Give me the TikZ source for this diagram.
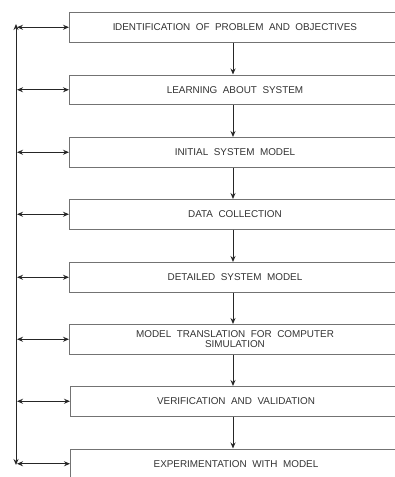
\documentclass[tikz,border=0pt]{standalone}
\usepackage{fontspec}
\setmainfont{Liberation Sans}
\usetikzlibrary{arrows.meta}
\begin{document}
\begin{tikzpicture}[x=1pt,y=-1pt,
  stagebox/.style={draw=black!55, line width=1pt, minimum width=331pt, minimum height=29.5pt,
    inner sep=0pt, anchor=north west, font=\fontsize{9.9}{12}\selectfont, text=black!80, align=center},
  flow/.style={draw=black!85, line width=1pt, -{Stealth[length=6pt,width=5pt]}},
  both/.style={draw=black!85, line width=1pt, {Stealth[length=6pt,width=5pt]}-{Stealth[length=6pt,width=5pt]}}
]
\useasboundingbox (0,0) rectangle (395,477);
\begin{scope}
\clip (0,0) rectangle (395,477);
\node[stagebox] (b1) at (69,12)  {I\kern-0.5ptDENTIFICATION \ OF \ PROBLEM \ AND \ OBJECTIVES};
\node[stagebox] (b2) at (69,74.5)  {LEARNING \ ABOUT \ SYSTEM};
\node[stagebox] (b3) at (69,137) {INITIAL \ SYSTEM \ MODEL};
\node[stagebox] (b4) at (69,199) {DATA \ COLLECTION};
\node[stagebox] (b5) at (69,262) {DETAILED \ SYSTEM \ MODEL};
\node[stagebox] (b6) at (69,324) {MODEL \ TRANSLATION \ FOR \ COMPUTER\\[-2pt] SIMULATION};
\node[stagebox] (b7) at (70,386) {VERIFICATION \ AND \ VALIDATION};
\node[stagebox] (b8) at (70,448.5) {EXPERIMENTATION \ WITH \ MODEL};
\end{scope}
\foreach \a/\b in {b1/b2,b2/b3,b3/b4,b4/b5,b5/b6,b6/b7,b7/b8}{
  \draw[flow] (\a.south -| 233,0) -- (\b.north -| 233,0);
}
\coordinate (top) at (16,26);
\coordinate (bot) at (16,463);
\draw[both] ([yshift=2pt]top) -- ([yshift=-2pt]bot);
\foreach \n in {b1,b2,b3,b4,b5,b6,b7,b8}{
  \coordinate (L\n) at (\n.west -| 17,0);
  \draw[both] (L\n) -- (\n.west);
}
\end{tikzpicture}
\end{document}
